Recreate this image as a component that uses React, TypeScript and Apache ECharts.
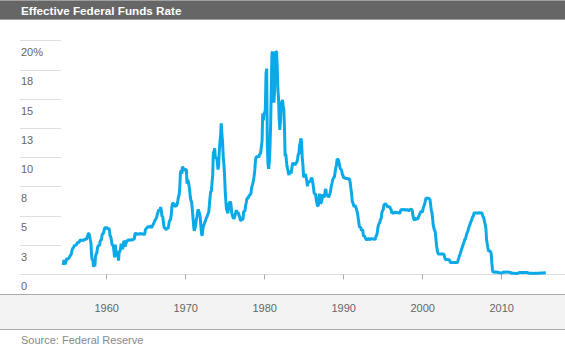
import React, { useEffect, useRef } from "react";
import * as echarts from "echarts";

// Effective Federal Funds Rate, monthly (%), starting July 1954
const START_YEAR = 1954;
const START_MONTH = 6; // July (0-based)

const rates1950s = [
  0.80, 1.22, 1.07, 0.85, 0.83, 1.28,
  1.39, 1.29, 1.35, 1.43, 1.43, 1.64, 1.68, 1.96, 2.18, 2.24, 2.35, 2.48,
  2.45, 2.50, 2.50, 2.62, 2.75, 2.71, 2.75, 2.73, 2.95, 2.96, 2.88, 2.94,
  2.84, 3.00, 2.96, 3.00, 3.00, 3.00, 2.99, 3.24, 3.47, 3.50, 3.28, 2.98,
  2.72, 1.67, 1.20, 1.26, 0.63, 0.93, 0.68, 1.53, 1.76, 1.80, 2.27, 2.42,
  2.48, 2.43, 2.80, 2.96, 2.90, 3.39, 3.47, 3.50, 3.76, 3.98, 4.00, 3.99,
];
const rates1960s = [
  3.99, 3.97, 3.84, 3.92, 3.85, 3.32, 3.23, 2.98, 2.60, 2.47, 2.44, 1.98,
  1.45, 2.54, 2.02, 1.49, 1.98, 1.73, 1.17, 2.00, 1.88, 2.26, 2.61, 2.33,
  2.15, 2.37, 2.85, 2.78, 2.36, 2.68, 2.71, 2.93, 2.90, 2.90, 2.94, 2.93,
  2.92, 3.00, 2.98, 2.90, 3.00, 2.99, 3.02, 3.49, 3.48, 3.50, 3.48, 3.38,
  3.48, 3.48, 3.43, 3.47, 3.50, 3.50, 3.42, 3.50, 3.45, 3.36, 3.52, 3.85,
  3.90, 3.98, 4.04, 4.09, 4.10, 4.04, 4.09, 4.12, 4.01, 4.08, 4.10, 4.32,
  4.42, 4.60, 4.65, 4.67, 4.90, 5.17, 5.30, 5.53, 5.40, 5.53, 5.76, 5.40,
  4.94, 5.00, 4.53, 4.05, 3.94, 3.98, 3.79, 3.90, 3.99, 3.88, 4.13, 4.51,
  4.61, 4.71, 5.05, 5.76, 6.11, 6.07, 6.02, 6.03, 5.78, 5.91, 5.82, 6.02,
  6.30, 6.61, 6.79, 7.41, 8.67, 8.90, 8.61, 9.19, 9.15, 9.00, 8.85, 8.97,
];
const rates1970s = [
  8.98, 8.98, 7.76, 8.10, 7.95, 7.61, 7.21, 6.61, 6.29, 6.20, 5.60, 4.90,
  4.14, 3.72, 3.71, 4.15, 4.63, 4.91, 5.31, 5.56, 5.55, 5.20, 4.91, 4.14,
  3.50, 3.29, 3.83, 4.17, 4.27, 4.46, 4.55, 4.80, 4.87, 5.04, 5.06, 5.33,
  5.94, 6.58, 7.09, 7.12, 7.84, 8.49, 10.40, 10.50, 10.78, 10.01, 10.03, 9.95,
  9.65, 8.97, 9.35, 10.51, 11.31, 11.93, 12.92, 12.01, 11.34, 10.06, 9.45, 8.53,
  7.13, 6.24, 5.54, 5.49, 5.22, 5.55, 6.10, 6.14, 6.24, 5.82, 5.22, 5.20,
  4.87, 4.77, 4.84, 4.82, 5.29, 5.48, 5.31, 5.29, 5.25, 5.02, 4.95, 4.65,
  4.61, 4.68, 4.69, 4.73, 5.35, 5.39, 5.42, 5.90, 6.14, 6.47, 6.51, 6.56,
  6.70, 6.78, 6.79, 6.89, 7.36, 7.60, 7.81, 8.04, 8.45, 8.96, 9.76, 10.03,
  10.07, 10.06, 10.09, 10.01, 10.24, 10.29, 10.47, 10.94, 11.43, 13.77, 13.18, 13.78,
];
const rates1980s = [
  13.82, 14.13, 17.19, 17.61, 10.98, 9.47, 9.03, 9.61, 10.87, 12.81, 15.85, 18.90,
  19.08, 15.93, 14.70, 15.72, 18.52, 19.10, 19.04, 17.82, 15.87, 15.08, 13.31, 12.37,
  13.22, 14.78, 14.68, 14.94, 14.45, 14.15, 12.59, 10.12, 10.31, 9.71, 9.20, 8.95,
  8.68, 8.51, 8.77, 8.80, 8.63, 8.98, 9.37, 9.56, 9.45, 9.48, 9.34, 9.47,
  9.56, 9.59, 9.91, 10.29, 10.32, 11.06, 11.23, 11.64, 11.30, 9.99, 9.43, 8.38,
  8.35, 8.50, 8.58, 8.27, 7.97, 7.53, 7.88, 7.90, 7.92, 7.99, 8.05, 8.27,
  8.14, 7.86, 7.48, 6.99, 6.85, 6.92, 6.56, 6.17, 5.89, 5.85, 6.04, 6.91,
  6.43, 6.10, 6.13, 6.37, 6.85, 6.73, 6.58, 6.73, 7.22, 7.29, 6.69, 6.77,
  6.83, 6.58, 6.58, 6.87, 7.09, 7.51, 7.75, 8.01, 8.19, 8.30, 8.35, 8.76,
  9.12, 9.36, 9.85, 9.84, 9.81, 9.53, 9.24, 8.99, 9.02, 8.84, 8.55, 8.45,
];
const rates1990s = [
  8.23, 8.24, 8.28, 8.26, 8.18, 8.29, 8.15, 8.13, 8.20, 8.11, 7.81, 7.31,
  6.91, 6.25, 6.12, 5.91, 5.78, 5.90, 5.82, 5.66, 5.45, 5.21, 4.81, 4.43,
  4.03, 4.06, 3.98, 3.73, 3.82, 3.76, 3.25, 3.30, 3.22, 3.10, 3.09, 2.92,
  3.02, 3.03, 3.07, 2.96, 3.00, 3.04, 3.06, 3.03, 3.09, 2.99, 3.02, 2.96,
  3.05, 3.25, 3.34, 3.56, 4.01, 4.25, 4.26, 4.47, 4.73, 4.76, 5.29, 5.45,
  5.53, 5.92, 5.98, 6.05, 6.01, 6.00, 5.85, 5.74, 5.80, 5.76, 5.80, 5.60,
  5.56, 5.22, 5.31, 5.22, 5.24, 5.27, 5.40, 5.22, 5.30, 5.24, 5.31, 5.29,
  5.25, 5.19, 5.39, 5.51, 5.50, 5.56, 5.52, 5.54, 5.54, 5.50, 5.52, 5.50,
  5.56, 5.51, 5.49, 5.45, 5.49, 5.56, 5.54, 5.55, 5.51, 5.07, 4.83, 4.68,
  4.63, 4.76, 4.81, 4.74, 4.74, 4.76, 4.99, 5.07, 5.22, 5.20, 5.42, 5.30,
];
const rates2000s = [
  5.45, 5.73, 5.85, 6.02, 6.27, 6.53, 6.54, 6.50, 6.52, 6.51, 6.51, 6.40,
  5.98, 5.49, 5.31, 4.80, 4.21, 3.97, 3.77, 3.65, 3.07, 2.49, 2.09, 1.82,
  1.73, 1.74, 1.73, 1.75, 1.75, 1.75, 1.73, 1.74, 1.75, 1.75, 1.34, 1.24,
  1.24, 1.26, 1.25, 1.26, 1.26, 1.22, 1.01, 1.03, 1.01, 1.01, 1.00, 0.98,
  1.00, 1.01, 1.00, 1.00, 1.00, 1.03, 1.26, 1.43, 1.61, 1.76, 1.93, 2.16,
  2.28, 2.50, 2.63, 2.79, 3.00, 3.04, 3.26, 3.50, 3.62, 3.78, 4.00, 4.16,
  4.29, 4.49, 4.59, 4.79, 4.94, 4.99, 5.24, 5.25, 5.25, 5.25, 5.25, 5.24,
  5.25, 5.26, 5.26, 5.25, 5.25, 5.25, 5.26, 5.02, 4.94, 4.76, 4.49, 4.24,
  3.94, 2.98, 2.61, 2.28, 1.98, 2.00, 2.01, 2.00, 1.81, 0.97, 0.39, 0.16,
  0.15, 0.22, 0.18, 0.15, 0.18, 0.21, 0.16, 0.16, 0.15, 0.12, 0.12, 0.12,
];
const rates2010s = [
  0.11, 0.13, 0.16, 0.20, 0.20, 0.18, 0.18, 0.19, 0.19, 0.19, 0.19, 0.18,
  0.17, 0.16, 0.14, 0.10, 0.09, 0.09, 0.07, 0.10, 0.08, 0.07, 0.08, 0.07,
  0.08, 0.10, 0.13, 0.14, 0.16, 0.16, 0.16, 0.13, 0.14, 0.16, 0.16, 0.16,
  0.14, 0.15, 0.14, 0.15, 0.11, 0.09, 0.09, 0.08, 0.08, 0.09, 0.08, 0.09,
  0.07, 0.07, 0.08, 0.09, 0.09, 0.10, 0.09, 0.09, 0.09, 0.09, 0.09, 0.12,
  0.11, 0.11, 0.11, 0.12, 0.12, 0.13, 0.13, 0.14,
];

const xTickYears = [1960, 1970, 1980, 1990, 2000, 2010];
const yMax = 20;
const yStep = 2.5;

const TITLE = "Effective Federal Funds Rate";
const SOURCE = "Source: Federal Reserve";

const allRates = [
  ...rates1950s,
  ...rates1960s,
  ...rates1970s,
  ...rates1980s,
  ...rates1990s,
  ...rates2000s,
  ...rates2010s,
];

export default function App() {
  const ref = useRef<HTMLDivElement>(null);

  useEffect(() => {
    if (!ref.current) return;
    const chart = echarts.init(ref.current, null, { renderer: "svg" });

    const data = allRates.map((v, i) => [
      START_YEAR + (START_MONTH + i) / 12,
      v,
    ]);

    const W = 565;
    const gridLeft = 20;
    const gridTop = 40.7;
    const gridBottom = 75.7;
    const pxPerYear = 7.9;
    const x1960 = 106.7;
    const xMin = 1960 - (x1960 - gridLeft) / pxPerYear;
    const xMax = 1960 + (W - x1960) / pxPerYear;

    const font = "'Liberation Sans', Arial, sans-serif";

    chart.setOption({
      animation: false,
      backgroundColor: "#ffffff",
      textStyle: { fontFamily: font },
      grid: {
        left: gridLeft,
        right: 0,
        top: gridTop,
        bottom: gridBottom,
        containLabel: false,
      },
      xAxis: [
        {
          type: "value",
          min: xMin,
          max: xMax,
          position: "bottom",
          offset: 20,
          axisLine: { show: false },
          axisTick: {
            show: true,
            customValues: xTickYears,
            length: 5,
            lineStyle: { color: "#aaaaaa", width: 1 },
          },
          axisLabel: {
            show: true,
            customValues: xTickYears,
            color: "#666666",
            fontSize: 11,
            fontFamily: font,
            margin: 8,
            formatter: (v: number) => String(Math.round(v)),
          },
          splitLine: { show: false },
        },
        {
          type: "value",
          min: xMin,
          max: xMax,
          position: "bottom",
          offset: 0,
          axisLine: { show: true, lineStyle: { color: "#dddddd", width: 1 } },
          axisTick: { show: false },
          axisLabel: { show: false },
          splitLine: { show: false },
        },
      ],
      yAxis: {
        type: "value",
        min: 0,
        max: yMax,
        interval: yStep,
        axisLine: { show: false },
        axisTick: {
          show: true,
          inside: true,
          length: 41,
          lineStyle: { color: "#dedede", width: 1 },
        },
        axisLabel: {
          show: true,
          inside: true,
          margin: 1,
          align: "left",
          verticalAlign: "top",
          padding: [6, 0, 0, 0],
          color: "#666666",
          fontSize: 11,
          fontFamily: font,
          formatter: (v: number) =>
            v === yMax ? `${yMax}%` : String(Math.round(v)),
        },
        splitLine: { show: false },
      },
      series: [
        {
          type: "line",
          xAxisIndex: 0,
          data,
          showSymbol: false,
          symbol: "none",
          lineStyle: { color: "#0aaae8", width: 3 },
          z: 5,
        },
      ],
      graphic: [
        {
          type: "rect",
          z: -10,
          silent: true,
          shape: { x: 0, y: 294, width: W, height: 35 },
          style: { fill: "#f3f3f3" },
        },
        {
          type: "line",
          z: -5,
          silent: true,
          shape: { x1: 0, y1: 294.5, x2: W, y2: 294.5 },
          style: { stroke: "#aaaaaa", lineWidth: 1 },
        },
        {
          type: "line",
          z: -5,
          silent: true,
          shape: { x1: 0, y1: 329.5, x2: W, y2: 329.5 },
          style: { stroke: "#aaaaaa", lineWidth: 1 },
        },
        {
          type: "rect",
          z: 10,
          silent: true,
          shape: { x: -1, y: 0.5, width: W + 2, height: 19 },
          style: { fill: "#666666", stroke: "#a0a0a0", lineWidth: 1 },
        },
        {
          type: "text",
          z: 11,
          silent: true,
          x: 21,
          y: 10,
          style: {
            text: TITLE,
            fill: "#ffffff",
            font: `bold 11.7px ${font}`,
            textVerticalAlign: "middle",
            verticalAlign: "middle",
          },
        },
        {
          type: "text",
          z: 11,
          silent: true,
          x: 21,
          y: 340,
          style: {
            text: SOURCE,
            fill: "#888888",
            font: `11px ${font}`,
            textVerticalAlign: "middle",
            verticalAlign: "middle",
          },
        },
      ],
    });

    return () => chart.dispose();
  }, []);

  return (
    <div
      ref={ref}
      style={{ position: "fixed", left: 0, top: 0, width: 565, height: 350 }}
    />
  );
}
